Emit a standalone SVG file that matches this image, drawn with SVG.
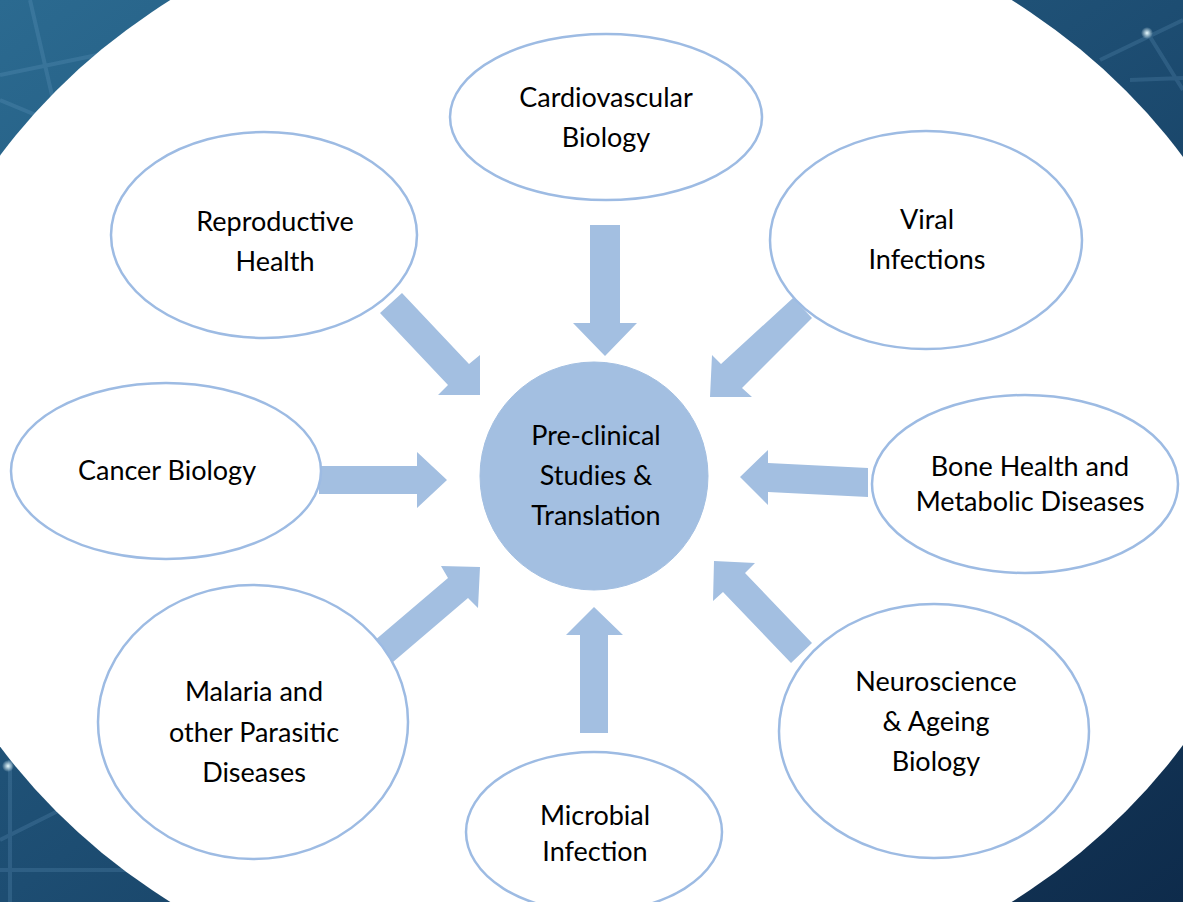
<svg xmlns="http://www.w3.org/2000/svg" width="1183" height="902" viewBox="0 0 1183 902">
<style>
.node{fill:#ffffff;stroke:#9dbbe3;stroke-width:2.5}
.hub{fill:#a3bfe1;stroke:#a3bfe1;stroke-width:1}
.arrow{fill:#a3bfe1;stroke:none}
.lbl{font-family:Lato,"Liberation Sans",sans-serif;font-size:27px;fill:#000000;text-anchor:middle}
.net{stroke:#7fb4d6;stroke-width:4;opacity:0.18;fill:none}
</style>
<defs>
<linearGradient id="bg" x1="0" y1="0" x2="1" y2="1">
<stop offset="0" stop-color="#2b6a90"/>
<stop offset="0.5" stop-color="#1d4d72"/>
<stop offset="1" stop-color="#0e2b4b"/>
</linearGradient>
<radialGradient id="glow">
<stop offset="0" stop-color="#e8fbff"/>
<stop offset="1" stop-color="#e8fbff" stop-opacity="0"/>
</radialGradient>
</defs>
<g id="background">
<rect x="0" y="0" width="1183" height="902" fill="url(#bg)"/>
<path class="net" d="M0 75 L170 40 M30 0 L60 130 M0 100 L120 150 M1100 60 L1183 20 M1147 32 L1183 90 M1130 80 L1183 78 M0 840 L80 800 M10 760 L10 902 M0 870 L130 870"/>
<circle cx="1147" cy="33" r="6" fill="url(#glow)"/>
<circle cx="8" cy="766" r="6" fill="url(#glow)"/>
<ellipse cx="591" cy="451" rx="692" ry="568" fill="#ffffff"/>
</g>
<g id="connectors">
<polygon class="arrow" points="590,225 620,225 620,323 637,323 605,356 573,323 590,323"/>
<polygon class="arrow" points="793,298 812,318 742,388 752,397 710,397 712,355 721,364"/>
<polygon class="arrow" points="868,468 868,497 768,492 768,505 740,477 768,450 768,463"/>
<polygon class="arrow" points="402,293 469,364 480,355 480,395 438,395 448,385 380,313"/>
<polygon class="arrow" points="319,466 417,466 417,452 447,480 417,508 417,494 319,494"/>
<polygon class="arrow" points="374,641 448,578 441,566 480,567 478,608 468,598 393,662"/>
<polygon class="arrow" points="580,733 580,635 566,635 594,607 623,635 608,635 608,733"/>
<polygon class="arrow" points="714,561 755,563 745,573 812,643 791,663 723,592 713,601"/>
</g>
<g id="node-hub">
<circle class="hub" cx="594" cy="476" r="114"/>
<text class="lbl" x="596" y="445">Pre-clinical</text>
<text class="lbl" x="596" y="485">Studies &amp;</text>
<text class="lbl" x="596" y="525">Translation</text>
</g>
<g id="node-cardio">
<ellipse class="node" cx="606" cy="117" rx="156" ry="83"/>
<text class="lbl" x="606" y="107">Cardiovascular</text>
<text class="lbl" x="606" y="147">Biology</text>
</g>
<g id="node-repro">
<ellipse class="node" cx="264" cy="235" rx="153" ry="103"/>
<text class="lbl" x="275" y="231">Reproductive</text>
<text class="lbl" x="275" y="271">Health</text>
</g>
<g id="node-viral">
<ellipse class="node" cx="926" cy="240" rx="156" ry="109"/>
<text class="lbl" x="927" y="229">Viral</text>
<text class="lbl" x="927" y="269">Infections</text>
</g>
<g id="node-cancer">
<ellipse class="node" cx="166" cy="471" rx="155" ry="88"/>
<text class="lbl" x="167" y="480">Cancer Biology</text>
</g>
<g id="node-bone">
<ellipse class="node" cx="1025" cy="484" rx="153" ry="89"/>
<text class="lbl" x="1030" y="476">Bone Health and</text>
<text class="lbl" x="1030" y="511">Metabolic Diseases</text>
</g>
<g id="node-malaria">
<ellipse class="node" cx="253" cy="722" rx="155" ry="137"/>
<text class="lbl" x="254" y="701">Malaria and</text>
<text class="lbl" x="254" y="742">other Parasitic</text>
<text class="lbl" x="254" y="782">Diseases</text>
</g>
<g id="node-neuro">
<ellipse class="node" cx="934" cy="731" rx="155" ry="127"/>
<text class="lbl" x="936" y="691">Neuroscience</text>
<text class="lbl" x="936" y="731">&amp; Ageing</text>
<text class="lbl" x="936" y="771">Biology</text>
</g>
<g id="node-microbial">
<ellipse class="node" cx="594" cy="832" rx="128" ry="80"/>
<text class="lbl" x="595" y="825">Microbial</text>
<text class="lbl" x="595" y="861">Infection</text>
</g>
</svg>
